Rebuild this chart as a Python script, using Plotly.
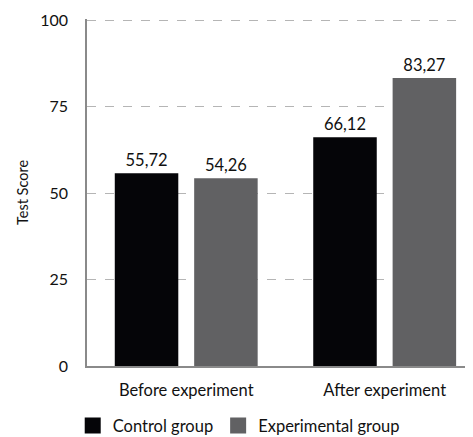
import plotly.graph_objects as go

categories = ["Before experiment", "After experiment"]
control = [55.72, 66.12]
experimental = [54.26, 83.27]
series_names = ["Control group", "Experimental group"]
y_ticks = [0, 25, 50, 75, 100]

FONT = "Lato"
c_control = "#050508"
c_exp = "#616163"

fig = go.Figure()
for name, vals, col in [(series_names[0], control, c_control), (series_names[1], experimental, c_exp)]:
    fig.add_trace(go.Bar(
        x=categories, y=vals, name=name, marker=dict(color=col, line=dict(width=0)),
        texttemplate="%{y:.2f}", textposition="outside",
        textfont=dict(family=FONT, size=16.5, color="#111111"),
        cliponaxis=False, showlegend=False,
    ))
    fig.add_trace(go.Scatter(
        x=[None], y=[None], mode="markers", name=name,
        marker=dict(symbol="square", size=16, color=col),
        showlegend=True,
    ))

# the page has an 8px body margin, so the figure is 8px smaller on each axis
fig.update_layout(
    width=465, height=429,
    margin=dict(l=79, r=0, t=11, b=71, autoexpand=False),
    paper_bgcolor="white", plot_bgcolor="white",
    separators=",.",
    barmode="group", bargap=0.2, bargroupgap=0.2,
    font=dict(family=FONT, size=16, color="#111111"),
    showlegend=True,
    legend=dict(orientation="h", x=-0.037, xanchor="left", y=-0.172, yanchor="middle",
                font=dict(family=FONT, size=16.5, color="#111111"), itemsizing="trace",
                bgcolor="rgba(0,0,0,0)"),
    xaxis=dict(range=[-0.5, 1.445], showline=True, linecolor="#8a8a8a", linewidth=1.5,
               ticks="", showgrid=False, ticklabelstandoff=8, automargin=False,
               tickfont=dict(family=FONT, size=16.5, color="#111111")),
    yaxis=dict(range=[0, 100.3], tickvals=y_ticks, showline=True, linecolor="#8a8a8a", linewidth=1.5,
               showgrid=True, gridcolor="#b5b5b5", griddash="dash", gridwidth=1,
               zeroline=False, ticks="", ticklabelstandoff=14, automargin=False,
               tickfont=dict(family=FONT, size=16, color="#111111"),
               title=dict(text="Test Score", font=dict(family=FONT, size=14.5, color="#111111"), standoff=8)),
)

fig.write_html("out.html")
